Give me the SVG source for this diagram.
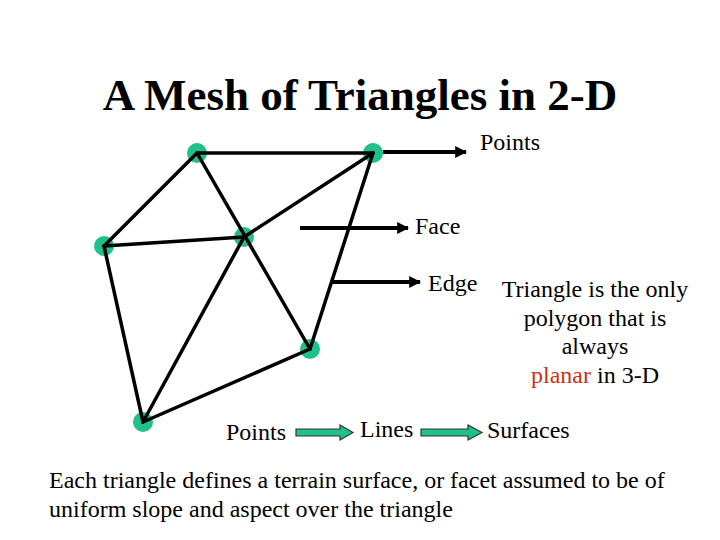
<svg xmlns="http://www.w3.org/2000/svg" width="720" height="540" viewBox="0 0 720 540">
<style>
text{font-family:"Liberation Serif","Times New Roman",serif;fill:#000}
.lbl text{font-size:24px}
.e{stroke:#000;stroke-width:3.5;fill:none;stroke-linecap:round}
.a{stroke:#000;stroke-width:4;fill:none}
.n{fill:#20c08c}
.g{fill:#20c08c;stroke:#333;stroke-width:1.2}
</style>
<defs>
<marker id="ah" viewBox="0 0 10 10" refX="9" refY="5" markerWidth="3" markerHeight="3" orient="auto" markerUnits="strokeWidth"><path d="M0,0 L10,5 L0,10 Z" fill="#000"/></marker>
</defs>
<rect width="720" height="540" fill="#fff"/>
<text x="360" y="110" text-anchor="middle" style="font-size:45px;font-weight:bold">A Mesh of Triangles in 2-D</text>
<g id="nodes">
<g id="p1"><circle class="n" cx="197" cy="153" r="10"/></g>
<g id="p2"><circle class="n" cx="373" cy="153" r="10"/></g>
<g id="p3"><circle class="n" cx="104" cy="246" r="10"/></g>
<g id="p4"><circle class="n" cx="244" cy="237" r="10"/></g>
<g id="p5"><circle class="n" cx="310" cy="349" r="10"/></g>
<g id="p6"><circle class="n" cx="143" cy="422" r="10"/></g>
</g>
<g id="edges">
<path class="e" d="M197,153 L373,153"/>
<path class="e" d="M197,153 L104,246"/>
<path class="e" d="M197,153 L310,349"/>
<path class="e" d="M373,153 L244,237"/>
<path class="e" d="M104,246 L244,237"/>
<path class="e" d="M373,153 L310,349"/>
<path class="e" d="M104,246 L143,422"/>
<path class="e" d="M244,237 L143,422"/>
<path class="e" d="M143,422 L310,349"/>
</g>
<g id="connectors">
<path class="a" d="M383,152 L466,152" marker-end="url(#ah)"/>
<path class="a" d="M300,228 L408,228" marker-end="url(#ah)"/>
<path class="a" d="M332,282 L420,282" marker-end="url(#ah)"/>
<path class="g" d="M296,429 L340,429 L340,425 L353,432.5 L340,440 L340,436 L296,436 Z"/>
<path class="g" d="M421,429 L468,429 L468,425 L482,432.5 L468,440 L468,436 L421,436 Z"/>
</g>
<g id="labels" class="lbl">
<text x="480" y="150">Points</text>
<text x="415" y="234">Face</text>
<text x="428" y="291">Edge</text>
<text x="595" y="297" text-anchor="middle">Triangle is the only</text>
<text x="595" y="326" text-anchor="middle">polygon that is</text>
<text x="595" y="354" text-anchor="middle">always</text>
<text x="595" y="383" text-anchor="middle"><tspan fill="#cc3311">planar</tspan> in 3-D</text>
<text x="226" y="440">Points</text>
<text x="360" y="437">Lines</text>
<text x="487" y="438">Surfaces</text>
<text x="49" y="488">Each triangle defines a terrain surface, or facet assumed to be of</text>
<text x="49" y="517">uniform slope and aspect over the triangle</text>
</g>
</svg>
